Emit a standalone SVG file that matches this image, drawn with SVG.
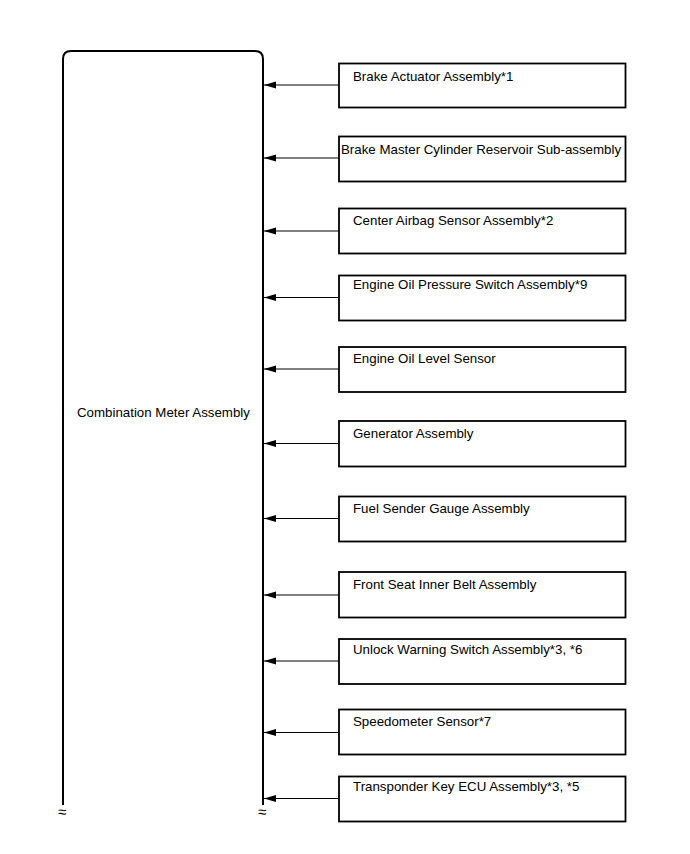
<svg xmlns="http://www.w3.org/2000/svg" width="690" height="854" viewBox="0 0 690 854">
<style>
text{font-family:"Liberation Sans",Arial,sans-serif;font-size:13.3px;fill:#000}
.box{fill:#fff;stroke:#000;stroke-width:1.8}
.main{fill:none;stroke:#000;stroke-width:2}
.conn{stroke:#000;stroke-width:1;fill:none}
.brk{font-size:15px;text-anchor:middle}
</style>
<defs>
<marker id="ah" markerWidth="12" markerHeight="8" refX="12" refY="4" orient="auto" markerUnits="userSpaceOnUse">
<path d="M0,0.5 L12,4 L0,7.5 Z" fill="#000"/>
</marker>
</defs>
<g id="combination-meter">
<path class="main" d="M63,805 V59 Q63,51 71,51 H255 Q263,51 263,59 V805"/>
<text x="77" y="417">Combination Meter Assembly</text>
<text class="brk" x="62" y="817">≈</text>
<text class="brk" x="262" y="817">≈</text>
</g>
<g id="connectors">
<line class="conn" x1="339" y1="85" x2="264" y2="85" marker-end="url(#ah)"/>
<line class="conn" x1="339" y1="158" x2="264" y2="158" marker-end="url(#ah)"/>
<line class="conn" x1="339" y1="231" x2="264" y2="231" marker-end="url(#ah)"/>
<line class="conn" x1="339" y1="297.5" x2="264" y2="297.5" marker-end="url(#ah)"/>
<line class="conn" x1="339" y1="369" x2="264" y2="369" marker-end="url(#ah)"/>
<line class="conn" x1="339" y1="443.5" x2="264" y2="443.5" marker-end="url(#ah)"/>
<line class="conn" x1="339" y1="518.5" x2="264" y2="518.5" marker-end="url(#ah)"/>
<line class="conn" x1="339" y1="595" x2="264" y2="595" marker-end="url(#ah)"/>
<line class="conn" x1="339" y1="661" x2="264" y2="661" marker-end="url(#ah)"/>
<line class="conn" x1="339" y1="732.5" x2="264" y2="732.5" marker-end="url(#ah)"/>
<line class="conn" x1="339" y1="798.5" x2="264" y2="798.5" marker-end="url(#ah)"/>
</g>
<g id="brake-actuator"><rect class="box" x="339" y="63.5" width="286.5" height="44"/><text x="353" y="81">Brake Actuator Assembly*1</text></g>
<g id="brake-master-cylinder"><rect class="box" x="339" y="136.5" width="286.5" height="45"/><text x="341" y="154">Brake Master Cylinder Reservoir Sub-assembly</text></g>
<g id="center-airbag-sensor"><rect class="box" x="339" y="208.5" width="286.5" height="45"/><text x="353" y="225">Center Airbag Sensor Assembly*2</text></g>
<g id="engine-oil-pressure-switch"><rect class="box" x="339" y="275.5" width="286.5" height="45"/><text x="353" y="289">Engine Oil Pressure Switch Assembly*9</text></g>
<g id="engine-oil-level-sensor"><rect class="box" x="339" y="347" width="286.5" height="45"/><text x="353" y="363">Engine Oil Level Sensor</text></g>
<g id="generator"><rect class="box" x="339" y="421" width="286.5" height="45.5"/><text x="353" y="438">Generator Assembly</text></g>
<g id="fuel-sender-gauge"><rect class="box" x="339" y="496.5" width="286.5" height="45"/><text x="353" y="513">Fuel Sender Gauge Assembly</text></g>
<g id="front-seat-inner-belt"><rect class="box" x="339" y="572" width="286.5" height="45.5"/><text x="353" y="589">Front Seat Inner Belt Assembly</text></g>
<g id="unlock-warning-switch"><rect class="box" x="339" y="639" width="286.5" height="45"/><text x="353" y="654">Unlock Warning Switch Assembly*3, *6</text></g>
<g id="speedometer-sensor"><rect class="box" x="339" y="709.5" width="286.5" height="45"/><text x="353" y="726">Speedometer Sensor*7</text></g>
<g id="transponder-key-ecu"><rect class="box" x="339" y="776.5" width="286.5" height="45"/><text x="353" y="791">Transponder Key ECU Assembly*3, *5</text></g>
</svg>
